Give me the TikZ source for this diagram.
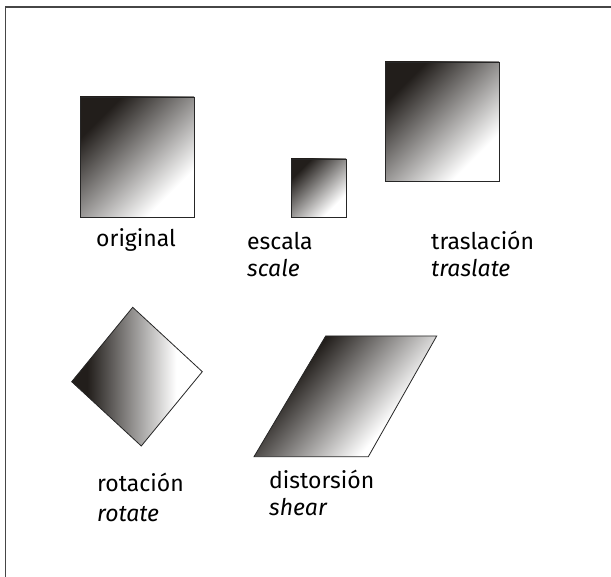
\documentclass[tikz,border=0pt]{standalone}
\usepackage{fontspec}
\setmainfont{Fira Sans}
\definecolor{ink}{RGB}{34,30,27}
\definecolor{framegray}{RGB}{70,70,70}
% gradients of the figures
\pgfdeclarehorizontalshading{fadesq}{100bp}{color(0bp)=(ink); color(27bp)=(ink); color(71bp)=(white); color(100bp)=(white)}
\pgfdeclarehorizontalshading{faderot}{100bp}{color(0bp)=(ink); color(31bp)=(ink); color(65bp)=(white); color(100bp)=(white)}
\pgfdeclarehorizontalshading{fadeshear}{100bp}{color(0bp)=(ink); color(33bp)=(ink); color(66bp)=(white); color(100bp)=(white)}

\begin{document}
\begin{tikzpicture}[x=1pt,y=-1pt,
    figure/.style={draw=black!85,line width=.8pt},
    lbl/.style={anchor=base west,inner sep=0pt,font=\fontsize{23}{27}\selectfont},
    lbli/.style={lbl,font=\fontsize{23}{27}\selectfont\itshape}]
        \useasboundingbox (0,0) rectangle (611,577);
        \draw[framegray,line width=1.3pt] (5.5,577) -- (5.5,7) -- (611,7);
        % squares
        \shadedraw[figure,shading=fadesq,shading angle=-45] (80,97) rectangle (194,217);
        \shadedraw[figure,shading=fadesq,shading angle=-45] (291,159) rectangle (346,217);
        \shadedraw[figure,shading=fadesq,shading angle=-45] (385,62) rectangle (499,181);
        \shadedraw[figure,shading=faderot] (132.7,307.3) -- (202.3,371.7) -- (141.3,446) -- (71.7,381.7) -- cycle;
        \shadedraw[figure,shading=fadeshear,shading angle=-40] (325.7,336) -- (436.7,336) -- (368.3,456.7) -- (254,456.7) -- cycle;
        % labels
        \node[lbl] (original) at (96,247) {original};
        \node[lbl] (escala) at (247,249.5) {escala};
        \node[lbli] (scale) at (247,276.7) {scale};
        \node[lbl] (traslacion) at (431,250) {traslación};
        \node[lbli] (traslate) at (431,276.7) {traslate};
        \node[lbl] (rotacion) at (97,492) {rotación};
        \node[lbli] (rotate) at (97,521.7) {rotate};
        \node[lbl] (distorsion) at (269,488.3) {distorsión};
        \node[lbli] (shear) at (269,515) {shear};
\end{tikzpicture}
\end{document}
